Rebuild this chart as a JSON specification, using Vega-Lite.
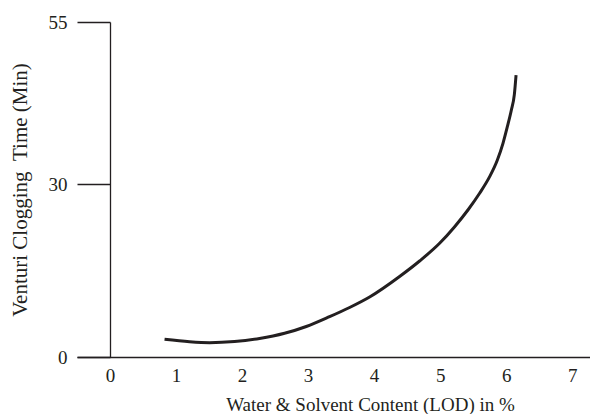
{
  "$schema": "https://vega.github.io/schema/vega-lite/v6.json",
  "width": 513,
  "height": 335,
  "autosize": "none",
  "padding": {"left": 77, "top": 22, "right": 0, "bottom": 57},
  "background": "white",
  "config": {
    "view": {"stroke": null},
    "font": "Liberation Serif",
    "axis": {
      "labelFont": "Liberation Serif",
      "titleFont": "Liberation Serif",
      "labelFontSize": 19,
      "titleFontSize": 19,
      "labelColor": "#231f20",
      "titleColor": "#231f20",
      "titleFontWeight": "normal",
      "domainColor": "#231f20",
      "tickColor": "#231f20",
      "domainWidth": 1.3,
      "tickWidth": 1.3,
      "grid": false
    }
  },
  "data": {
    "values": [
      {"lod": 0.826, "time": 3.07},
      {"lod": 1.205, "time": 2.64},
      {"lod": 1.508, "time": 2.48},
      {"lod": 1.886, "time": 2.67},
      {"lod": 2.265, "time": 3.21},
      {"lod": 2.644, "time": 4.11},
      {"lod": 2.973, "time": 5.29},
      {"lod": 3.326, "time": 6.99},
      {"lod": 3.629, "time": 8.58},
      {"lod": 3.932, "time": 10.4},
      {"lod": 4.386, "time": 13.96},
      {"lod": 4.689, "time": 16.65},
      {"lod": 4.992, "time": 19.72},
      {"lod": 5.22, "time": 22.6},
      {"lod": 5.421, "time": 25.49},
      {"lod": 5.598, "time": 28.39},
      {"lod": 5.75, "time": 31.13},
      {"lod": 5.867, "time": 33.7},
      {"lod": 5.952, "time": 36.28},
      {"lod": 6.018, "time": 38.84},
      {"lod": 6.079, "time": 41.42},
      {"lod": 6.124, "time": 43.8},
      {"lod": 6.15, "time": 46.82}
    ]
  },
  "mark": {"type": "line", "interpolate": "monotone", "color": "#231f20", "strokeWidth": 3, "strokeCap": "butt"},
  "encoding": {
    "x": {
      "field": "lod",
      "type": "quantitative",
      "scale": {"domain": [-0.5, 7.27], "nice": false, "zero": false},
      "axis": {
        "title": "Water & Solvent Content (LOD) in %",
        "values": [0, 1, 2, 3, 4, 5, 6, 7],
        "format": "d",
        "ticks": false,
        "labelPadding": 9,
        "titlePadding": 10,
        "titleX": 293,
        "titleAlign": "center",
        "labelFlush": false
      }
    },
    "y": {
      "field": "time",
      "type": "quantitative",
      "scale": {"domain": [0, 30, 55], "range": [335, 162, 0], "nice": false, "zero": false},
      "axis": {
        "title": "Venturi Clogging\u00a0\u00a0Time (Min)",
        "values": [0, 30, 55],
        "offset": -33,
        "tickSize": 33,
        "labelPadding": 10,
        "titlePadding": 18,
        "titleFontSize": 21,
        "labelFlush": false
      }
    }
  }
}
